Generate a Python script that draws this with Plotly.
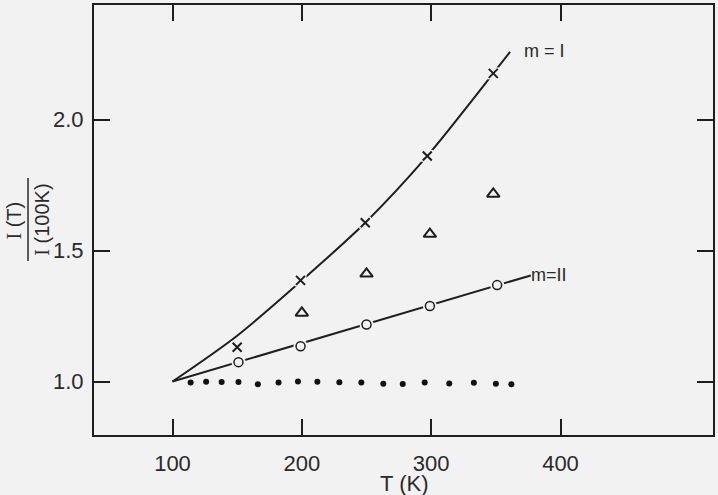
import plotly.graph_objects as go

BG = "#f2f2f2"
INK = "#1e1e1e"

# --- data ---
# m = I (crosses) and its drawn curve
m1_T = [150, 199, 249, 297, 348]
m1_y = [1.131, 1.386, 1.606, 1.861, 2.176]
m1_curve_T = [100, 150, 200, 249, 297, 348, 361]
m1_curve_y = [1.0, 1.175, 1.386, 1.606, 1.861, 2.176, 2.258]

# triangles
tri_T = [200, 250, 299, 348]
tri_y = [1.262, 1.411, 1.563, 1.716]

# m = II (open circles) and its drawn line
m2_T = [151, 199, 250, 299, 351]
m2_y = [1.074, 1.135, 1.218, 1.288, 1.368]
m2_line_T = [100, 377]
m2_line_y = [1.0, 1.405]

# filled dots near 1.0
dot_T = [114, 126, 138, 151, 166, 182, 197, 212, 229, 246, 263, 278, 295, 314, 333, 350, 362]
dot_y = [0.996, 0.999, 0.998, 0.998, 0.990, 0.996, 1.000, 0.999, 0.997, 0.996,
         0.992, 0.991, 0.996, 0.993, 0.995, 0.992, 0.990]

x_ticks = [100, 200, 300, 400]
x_tick_labels = ["100", "200", "300", "400"]
y_ticks = [1.0, 1.5, 2.0]
y_tick_labels = ["1.0", "1.5", "2.0"]

fig = go.Figure()

# m = I curve
fig.add_trace(go.Scatter(x=m1_curve_T, y=m1_curve_y, mode="lines",
                         line=dict(color=INK, width=2, shape="spline", smoothing=0.8),
                         hoverinfo="skip"))
# m = II line
fig.add_trace(go.Scatter(x=m2_line_T, y=m2_line_y, mode="lines",
                         line=dict(color=INK, width=2), hoverinfo="skip"))
# gaps around markers (background-coloured underlays)
fig.add_trace(go.Scatter(x=m1_T, y=m1_y, mode="markers",
                         marker=dict(symbol="square", size=12, color=BG), hoverinfo="skip"))
fig.add_trace(go.Scatter(x=m2_T, y=m2_y, mode="markers",
                         marker=dict(symbol="circle", size=14, color=BG), hoverinfo="skip"))
# markers
fig.add_trace(go.Scatter(x=m1_T, y=m1_y, mode="markers",
                         marker=dict(symbol="x-thin", size=9, color=INK,
                                     line=dict(color=INK, width=2))))
fig.add_trace(go.Scatter(x=m2_T, y=m2_y, mode="markers",
                         marker=dict(symbol="circle", size=9, color=BG,
                                     line=dict(color=INK, width=1.5))))
fig.add_trace(go.Scatter(x=tri_T, y=tri_y, mode="markers",
                         marker=dict(symbol="triangle-up-open", size=11, color=INK,
                                     line=dict(color=INK, width=2))))
fig.add_trace(go.Scatter(x=dot_T, y=dot_y, mode="markers",
                         marker=dict(symbol="circle", size=6, color="#111111")))

FONT = "Liberation Sans"
TXT = "#2a2a2a"

fig.update_layout(
    width=718, height=495,
    margin=dict(l=94, r=5, t=5, b=60),
    paper_bgcolor=BG, plot_bgcolor=BG,
    showlegend=False,
    font=dict(family=FONT, color=TXT, size=21),
    xaxis=dict(range=[39.3, 517.9], tickvals=x_ticks, ticktext=x_tick_labels,
               ticks="inside", ticklen=16, tickwidth=1.5, tickcolor=INK,
               showline=True, linecolor=INK, linewidth=2, mirror="ticks",
               showgrid=False, zeroline=False, ticklabelstandoff=8,
               automargin=False,
               tickfont=dict(family=FONT, size=22, color=TXT)),
    yaxis=dict(range=[0.796, 2.437], tickvals=y_ticks, ticktext=y_tick_labels,
               ticks="inside", ticklen=16, tickwidth=1.5, tickcolor=INK,
               showline=True, linecolor=INK, linewidth=2, mirror="ticks",
               showgrid=False, zeroline=False, ticklabelstandoff=4,
               automargin=False,
               tickfont=dict(family=FONT, size=22, color=TXT)),
)

serif_I = "<span style='font-family:Liberation Serif'>I</span>"
annotations = [
    dict(text="T (K)", xref="paper", yref="paper", x=0.5, y=-0.113,
         xanchor="center", yanchor="middle", showarrow=False,
         font=dict(family=FONT, size=22, color=TXT)),
    dict(text=serif_I + " (T)", xref="paper", yref="paper", x=-0.130, y=0.4977,
         xanchor="center", yanchor="middle", textangle=-90, showarrow=False,
         font=dict(family=FONT, size=20, color=TXT)),
    dict(text=serif_I + " (100K)", xref="paper", yref="paper", x=-0.0832, y=0.502,
         xanchor="center", yanchor="middle", textangle=-90, showarrow=False,
         font=dict(family=FONT, size=20, color=TXT)),
    dict(text="m = I", xref="x", yref="y", x=370, y=2.26,
         xanchor="left", yanchor="middle", showarrow=False,
         font=dict(family=FONT, size=18, color=TXT)),
    dict(text="m=II", xref="x", yref="y", x=376, y=1.408,
         xanchor="left", yanchor="middle", showarrow=False,
         font=dict(family=FONT, size=18, color=TXT)),
]
fig.update_layout(annotations=annotations)

fig.add_shape(type="line", xref="paper", yref="paper",
              x0=-0.1066, x1=-0.1066, y0=0.4047, y1=0.5977,
              line=dict(color=TXT, width=1.5))

fig.write_html(
    "out.html",
    config={"displayModeBar": False},
    post_script="document.body.style.margin='0';document.body.style.overflow='hidden';"
                "document.body.style.background='" + BG + "';",
)
